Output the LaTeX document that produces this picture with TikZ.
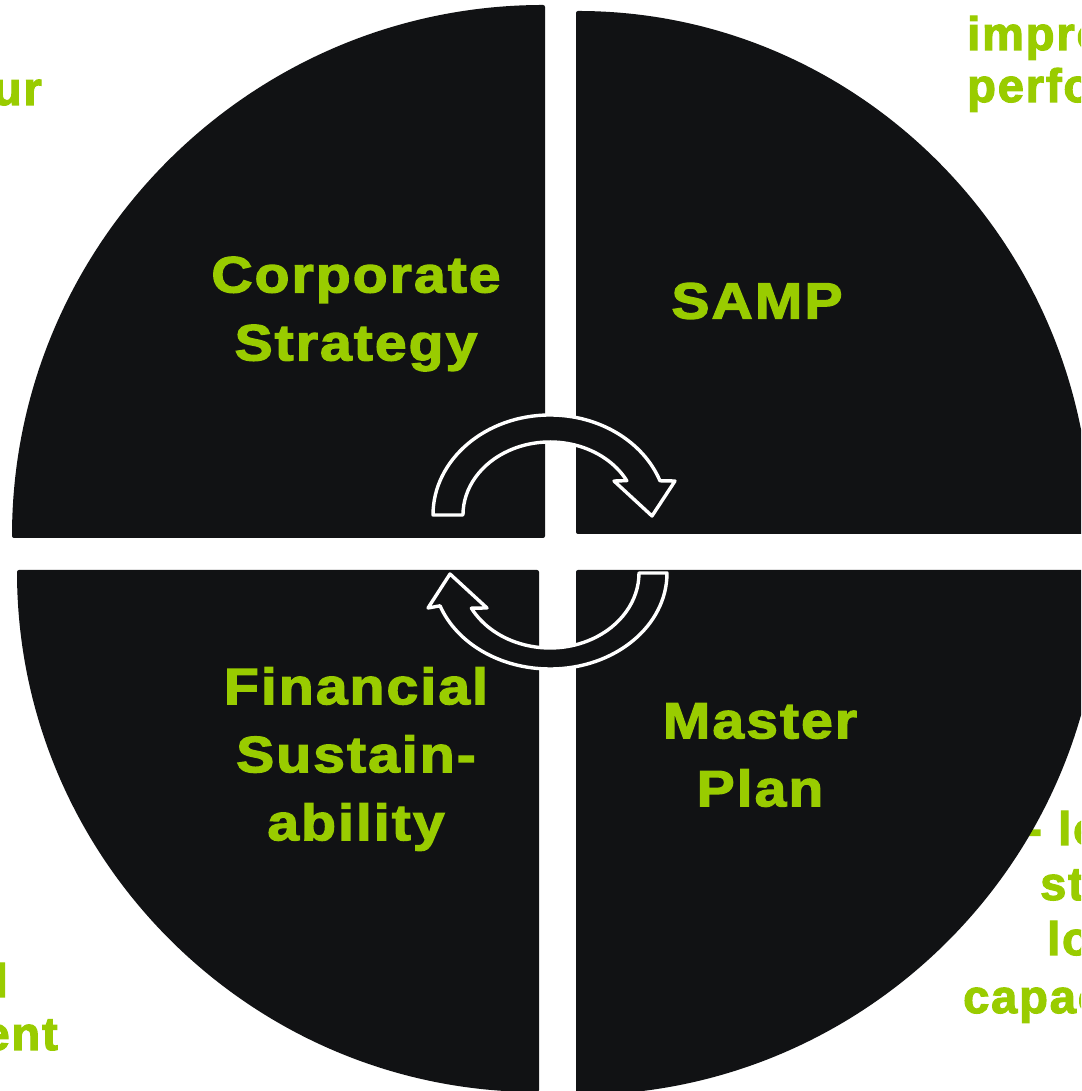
\documentclass[tikz,border=0pt]{standalone}
\usepackage{fontspec}
\setmainfont{Liberation Sans}
\newfontfamily\heavy{Liberation Sans Bold}[FakeBold=2.5,FakeStretch=1.12,LetterSpace=4]
\newfontfamily\heavyside{Liberation Sans Bold}[FakeBold=2.5,LetterSpace=4]
\definecolor{dark}{HTML}{111214}
\definecolor{lime}{HTML}{99CC00}
\begin{document}
\begin{tikzpicture}[x=1pt,y=1pt,
  quad/.style={fill=dark,rounded corners=2pt},
  arr/.style={fill=dark,draw=white,line width=3.4pt,line join=round},
  lab/.style={text=lime,align=center,inner sep=0pt,font=\heavy\fontsize{51}{68}\selectfont},
  outer/.style={text=lime,inner sep=0pt,font=\heavyside\fontsize{47}{52}\selectfont}]
\useasboundingbox (0,0) rectangle (1081,1091);
\fill[white] (0,0) rectangle (1081,1091);
\clip (0,0) rectangle (1081,1091);
% texts lying behind the quadrants, cut by the page edge
\node[outer,anchor=base east] (o1) at (42,986) {ur};
\node[outer,anchor=base west] (o2) at (967,1041) {impro};
\node[outer,anchor=base west] (o3) at (967,989) {perfo};
\node[outer,anchor=base east] (o4a) at (1042,246) {-};
\node[outer,anchor=base west] (o4) at (1058,246) {lo};
\node[outer,anchor=base west] (o5) at (1040,191) {st};
\node[outer,anchor=base west] (o6) at (1047,136) {lo};
\node[outer,anchor=base west] (o7) at (963,78) {capac};
\node[outer,anchor=base east] (o8) at (8,94) {l};
\node[outer,anchor=base east] (o9) at (58,41) {ent};
% quadrants
\fill[quad] (545,553) -- (12,553) arc[start angle=180,end angle=90,radius=533] -- cycle;
\fill[quad] (576,557) -- (576,1080) arc[start angle=90,end angle=0,x radius=515,y radius=523] -- cycle;
\fill[quad] (539,521) -- (17,521) arc[start angle=180,end angle=270,radius=522] -- cycle;
\fill[quad] (576,521) -- (576,-4) arc[start angle=270,end angle=360,radius=525] -- cycle;
% cycle arrows
\draw[arr] (433,576) arc[start angle=180,end angle=20,x radius=117,y radius=100]
  -- (675,610) -- (652,575) -- (614,610) -- (626.8,610.3)
  arc[start angle=28,end angle=180,x radius=87,y radius=73] -- cycle;
\draw[arr] (667,518) arc[start angle=0,end angle=-160,x radius=117,y radius=96]
  -- (428,483) -- (450,517) -- (487,483) -- (471.4,482.8)
  arc[start angle=-152,end angle=0,x radius=89,y radius=75] -- cycle;
% labels
\node[lab] (cs) at (356,777) {Corporate\\Strategy};
\node[lab] (samp) at (757,790) {SAMP};
\node[lab] (fs) at (356,332) {Financial\\Sustain-\\ability};
\node[lab] (mp) at (760,336) {Master\\Plan};
\end{tikzpicture}
\end{document}
